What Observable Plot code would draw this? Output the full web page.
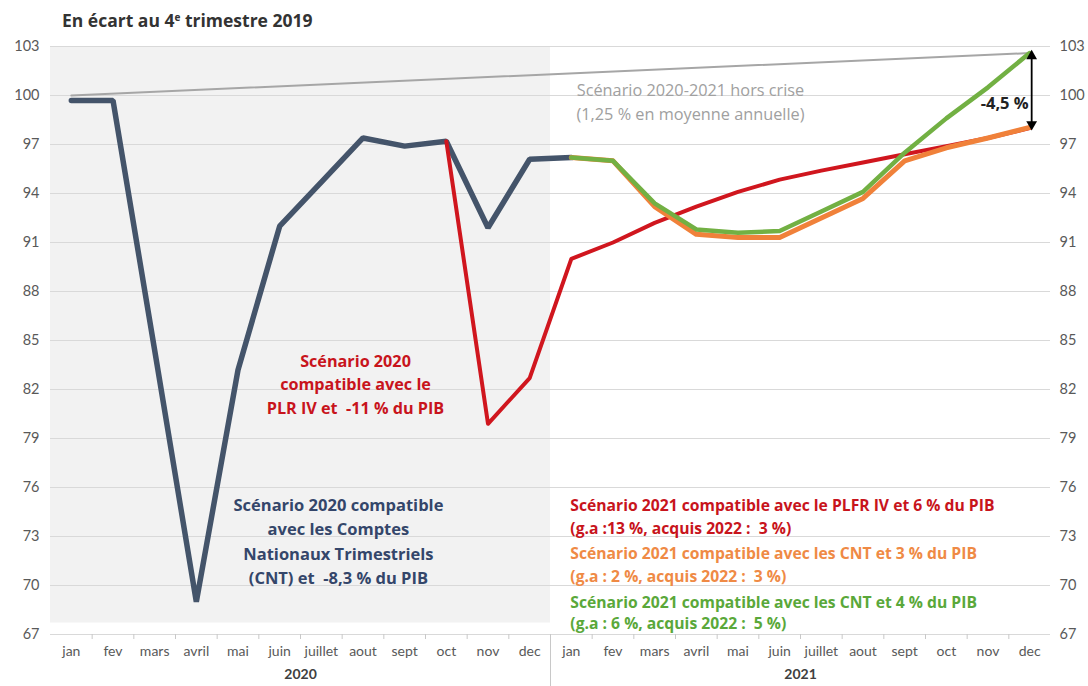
<!DOCTYPE html>
<html><head><meta charset="utf-8">
<script src="https://cdn.jsdelivr.net/npm/d3@7"></script>
<script src="https://cdn.jsdelivr.net/npm/@observablehq/plot@0.6"></script>
<style>
body{margin:0;background:#fff;font-family:"Open Sans",Lato,sans-serif;}
#title{height:36px;box-sizing:border-box;padding:9px 0 0 62px;font-size:17.5px;font-weight:bold;color:#333;line-height:22px}
#title sup{font-size:10px;vertical-align:top;position:relative;top:-3px}
</style></head><body>
<div id="title">En écart au 4<sup>e</sup> trimestre 2019</div>
<div id="chart"></div>
<script>
// ---- data ----
const months = ["jan","fev","mars","avril","mai","juin","juillet","aout","sept","oct","nov","dec"];
const years = ["2020","2021"];
const yTicks = [67,70,73,76,79,82,85,88,91,94,97,100,103];

// CNT 2020 scenario (jan 2020 .. jan 2021)
const cntStart = 0;
const cntValues = [99.7,99.7,84.4,69.0,83.2,92.0,94.7,97.4,96.9,97.2,91.9,96.1,96.2];
// PLFR IV scenario (oct 2020 .. dec 2021)
const plrStart = 9;
const plrValues = [97.2,79.9,82.7,90.0,91.0,92.2,93.2,94.1,94.85,95.4,95.9,96.4,96.9,97.4,98.0];
// CNT + 3 % (jan 2021 .. dec 2021)
const cnt3Start = 12;
const cnt3Values = [96.2,96.0,93.2,91.5,91.3,91.3,92.5,93.7,96.0,96.8,97.4,98.05];
// CNT + 4 % (jan 2021 .. dec 2021)
const cnt4Start = 12;
const cnt4Values = [96.2,96.0,93.4,91.8,91.6,91.7,92.9,94.1,96.5,98.6,100.5,102.6];
// Hors crise (jan 2020 and dec 2021)
const horsCriseIdx = [0,23];
const horsCriseValues = [100.0,102.6];

// ---- build ----
const monthLabels = years.flatMap(() => months);
const n = monthLabels.length;
const rows = (vals, start) => vals.map((v,k) => ({i: start + k, v}));
const cnt = rows(cntValues, cntStart);
const plr = rows(plrValues, plrStart);
const cnt3 = rows(cnt3Values, cnt3Start);
const cnt4 = rows(cnt4Values, cnt4Start);
const hors = horsCriseIdx.map((i,k) => ({i, v: horsCriseValues[k]}));
const labelRows = monthLabels.map((m,i) => ({i, m}));
const yearRows = years.map((y,k) => ({i: k*months.length + months.length/2 - 0.5, y}));
const boundaries = d3.range(0, n - 1).map(i => i + 0.5);
const gapTop = cnt4Values[cnt4Values.length-1];
const gapBottom = cnt3Values[cnt3Values.length-1];

const NAVY = "#44546a", RED = "#d0161e", ORANGE = "#f0813a", GREEN = "#72b043", GRAY = "#a6a6a6";
const OS = "'Open Sans', Lato, sans-serif";

const chart = Plot.plot({
  width: 1088, height: 650,
  marginLeft: 50, marginRight: 38, marginTop: 10, marginBottom: 52,
  style: {fontFamily: "Lato, 'Open Sans', sans-serif", background: "#fff"},
  x: {domain: [-0.5, n - 0.5], axis: null},
  y: {domain: [67, 103], axis: null},
  marks: [
    Plot.rect([0], {x1: () => -0.5, x2: () => months.length - 0.5, y1: () => 67.7, y2: () => 103, fill: "#f2f2f2"}),
    Plot.gridY(yTicks, {stroke: "#d9d9d9", strokeOpacity: 1}),
    Plot.axisY({anchor: "left", ticks: yTicks, tickSize: 0, tickPadding: 11, fontSize: 14.5, color: "#595959", label: null}),
    Plot.axisY({anchor: "right", ticks: yTicks, tickSize: 0, tickPadding: 9, fontSize: 14.5, color: "#595959", label: null}),
    Plot.axisX({ticks: boundaries, tickSize: 5, tickFormat: () => "", stroke: "#c8c8c8", label: null}),
    Plot.axisX({ticks: [months.length - 0.5], tickSize: 52, tickFormat: () => "", stroke: "#c8c8c8", label: null}),
    Plot.text(labelRows, {x: "i", text: "m", frameAnchor: "bottom", dy: 21, fontSize: 14, fill: "#595959"}),
    Plot.text(yearRows, {x: "i", text: "y", frameAnchor: "bottom", dy: 44, fontSize: 14, fontWeight: "bold", fill: "#404040"}),
    Plot.line(hors, {x: "i", y: "v", stroke: GRAY, strokeWidth: 2}),
    Plot.line(cnt, {x: "i", y: "v", stroke: NAVY, strokeWidth: 5.5, strokeLinejoin: "miter"}),
    Plot.line(plr, {x: "i", y: "v", stroke: RED, strokeWidth: 4}),
    Plot.line(cnt3, {x: "i", y: "v", stroke: ORANGE, strokeWidth: 5}),
    Plot.line(cnt4, {x: "i", y: "v", stroke: GREEN, strokeWidth: 4.5}),
    Plot.link([0], {x1: () => n - 1, x2: () => n - 1, y1: () => gapTop, y2: () => gapBottom,
      dx: 2, stroke: "#000", strokeWidth: 1.8}),
    Plot.dot([0], {x: () => n - 1, y: () => gapTop, symbol: "triangle", r: 4, fill: "#000", dx: 2, dy: 3, rotate: 0}),
    Plot.dot([0], {x: () => n - 1, y: () => gapBottom, symbol: "triangle", r: 4, fill: "#000", dx: 2, dy: -3, rotate: 180}),
    Plot.text(["-4,5 %"], {x: () => 22.4, y: () => 99.5, text: d => d, fontFamily: OS, fontSize: 16.5, fontWeight: "bold", fill: "#222"}),
    Plot.text(["Scénario 2020-2021 hors crise\n(1,25 % en moyenne annuelle)"], {x: () => 14.86, y: () => 99.7, text: d => d, fontFamily: OS, fontSize: 16.3, fill: "#a0a0a0", lineHeight: 1.47}),
    Plot.text(["Scénario 2020\ncompatible avec le\nPLR IV et  -11 % du PIB"], {x: () => 6.82, y: () => 82.4, text: d => d, fontFamily: OS, fontSize: 16.2, fontWeight: "bold", fill: "#c8141c", lineHeight: 1.45}),
    Plot.text(["Scénario 2020 compatible\navec les Comptes\nNationaux Trimestriels\n(CNT) et  -8,3 % du PIB"], {x: () => 6.41, y: () => 72.8, text: d => d, fontFamily: OS, fontSize: 16.5, fontWeight: "bold", fill: "#34466a", lineHeight: 1.47}),
    Plot.text(["Scénario 2021 compatible avec le PLFR IV et 6 % du PIB\n(g.a :13 %, acquis 2022 :  3 %)"], {x: () => 12, y: () => 74.3, text: d => d, textAnchor: "start", dx: -1, fontFamily: OS, fontSize: 15.7, fontWeight: "bold", fill: "#c8141c", lineHeight: 1.45}),
    Plot.text(["Scénario 2021 compatible avec les CNT et 3 % du PIB\n(g.a : 2 %, acquis 2022 :  3 %)"], {x: () => 12, y: () => 71.35, text: d => d, textAnchor: "start", dx: -1, fontFamily: OS, fontSize: 15.7, fontWeight: "bold", fill: "#ef8a45", lineHeight: 1.45}),
    Plot.text(["Scénario 2021 compatible avec les CNT et 4 % du PIB\n(g.a : 6 %, acquis 2022 :  5 %)"], {x: () => 12, y: () => 68.4, text: d => d, textAnchor: "start", dx: -1, fontFamily: OS, fontSize: 15.7, fontWeight: "bold", fill: "#5aa83a", lineHeight: 1.35})
  ]
});
document.getElementById("chart").appendChild(chart);
</script>
</body></html>
